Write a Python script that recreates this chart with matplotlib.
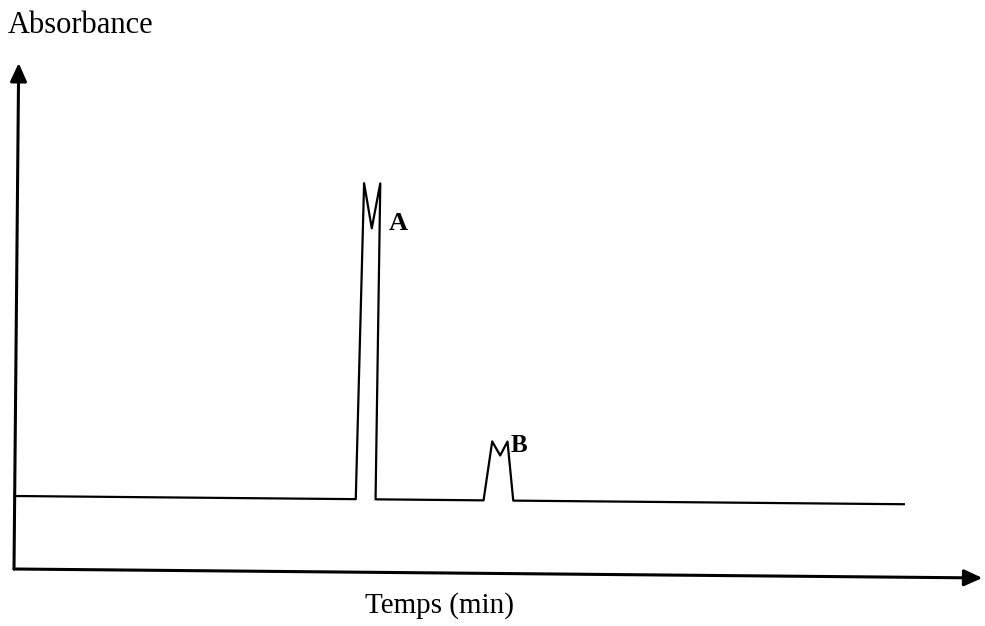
import matplotlib.pyplot as plt
from matplotlib.transforms import Affine2D

plt.rcParams['font.family'] = ['Liberation Serif', 'DejaVu Serif']

# chromatogram trace (time in min, absorbance in arbitrary units)
time = [0, 3.79, 3.85, 3.94, 4.03, 4.01, 5.21, 5.30, 5.39, 5.47, 5.54, 9.88]
absorbance = [0.146, 0.146, 0.778, 0.688, 0.778, 0.146,
              0.146, 0.264, 0.236, 0.264, 0.146, 0.146]

peak_names = ['A', 'B']
peak_label_time = [4.13, 5.51]
peak_label_abs = [0.685, 0.243]
peak_label_size = [19, 18]

x_axis_end = 10.76
y_axis_end = 1.012

fig = plt.figure(figsize=(9.85, 6.26), dpi=100)
ax = fig.add_axes([0, 0, 1, 1])
ax.set_xlim(-14 / 90, 971 / 90)
ax.set_ylim(-57 / 500, 569 / 500)
ax.axis('off')

# the original scan is slightly tilted
skew = ax.transData + Affine2D().rotate_deg_around(14, 57, -0.53)

arrow = dict(arrowstyle='-|>,head_length=0.55,head_width=0.25', color='black',
             lw=2.2, mutation_scale=20, shrinkA=0, shrinkB=0)
ax.annotate('', xy=(x_axis_end, 0), xytext=(0, 0), xycoords=skew, arrowprops=arrow)
ax.annotate('', xy=(0, y_axis_end), xytext=(0, 0), xycoords=skew, arrowprops=arrow)

ax.plot(time, absorbance, color='black', lw=1.6, transform=skew, clip_on=False)

for name, t, a, s in zip(peak_names, peak_label_time, peak_label_abs, peak_label_size):
    ax.text(t, a, name, transform=skew, fontsize=s, fontweight='bold',
            ha='left', va='baseline')

fig.text(8 / 985, 1 - 33 / 626, 'Absorbance', fontsize=22, ha='left', va='baseline')
fig.text(365 / 985, 1 - 613 / 626, 'Temps (min)', fontsize=21, ha='left', va='baseline')

fig.savefig('out.png', dpi=100)
